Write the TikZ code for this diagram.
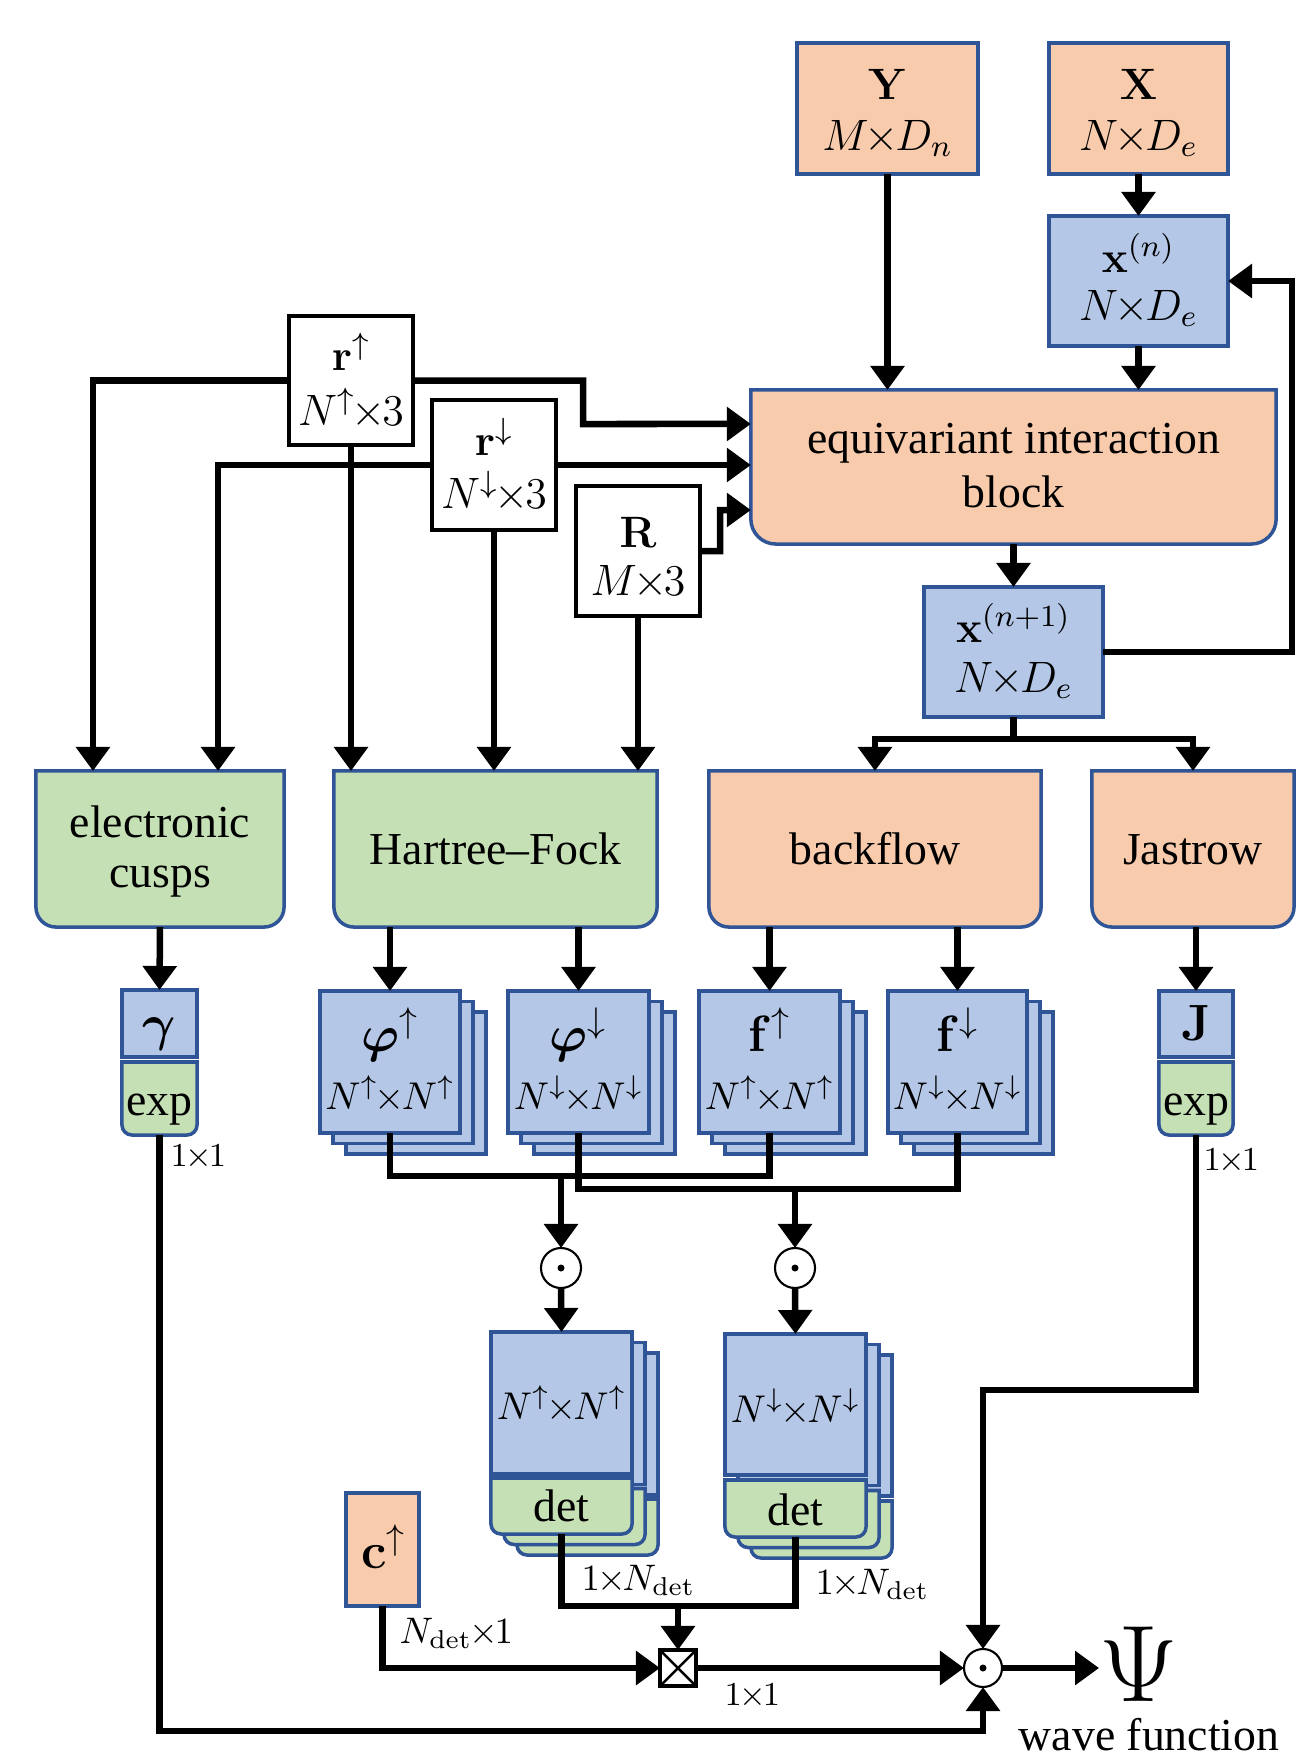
\RequirePackage{fix-cm}
\documentclass[tikz,border=0pt]{standalone}
\usepackage[no-math]{fontspec}
\setmainfont{Liberation Serif}
\usepackage{bm}
\usetikzlibrary{arrows.meta}
\definecolor{orF}{HTML}{F8CBAD}
\definecolor{blF}{HTML}{B4C7E7}
\definecolor{grF}{HTML}{C5E0B4}
\definecolor{bdr}{HTML}{2F5597}
\newcommand\tms{\mkern-1.5mu{\times}\mkern-1.5mu}
\newcommand\botround[3]{%
  \filldraw[draw=bdr, line width=1pt, fill=#3] (#1.north west) -- ([yshift=#2]#1.south west) arc[start angle=180,end angle=270,radius=#2] -- ([xshift=-#2]#1.south east) arc[start angle=270,end angle=360,radius=#2] -- (#1.north east) -- cycle;}
\begin{document}
\begin{tikzpicture}[x=0.01cm, y=-0.01cm,
  bx/.style n args={3}{draw=bdr, line width=1pt, fill=#3, minimum width=#1, minimum height=#2, inner sep=0pt, outer sep=0pt},
  sz/.style n args={2}{minimum width=#1, minimum height=#2, inner sep=0pt, outer sep=0pt},
  wb/.style n args={2}{draw=black, line width=1.2pt, fill=white, minimum width=#1, minimum height=#2, inner sep=0pt, outer sep=0pt},
  mth/.style={font=\fontsize{12.5}{15}\selectfont, inner sep=0pt, anchor=base},
  txt/.style={font=\fontsize{13}{15}\selectfont, inner sep=0pt, anchor=base},
  big/.style={font=\fontsize{14.5}{17}\selectfont, inner sep=0pt, anchor=base},
  sml/.style={font=\fontsize{11}{13}\selectfont, inner sep=0pt, anchor=base},
  lab/.style={font=\fontsize{10.5}{12}\selectfont, inner sep=0pt, anchor=base west},
  labs/.style={font=\fontsize{9.5}{11}\selectfont, inner sep=0pt, anchor=base west},
  lin/.style={line width=1.85pt},
  conn/.style={line width=1.85pt, -{Triangle[length=0.24cm,width=0.33cm]}},
  odot/.style={circle, draw=black, line width=0.6pt, fill=white, minimum size=0.4cm, inner sep=0pt, outer sep=0pt},
]
\useasboundingbox (0,0) rectangle (1297,1763);

% ---- top inputs
\node[bx={1.81cm}{1.31cm}{orF}] (Y) at (887.5,108.5) {};
\node[mth] (Yt1) at (887.5,99) {$\mathbf{Y}$};
\node[mth] (Yt2) at (887.5,150) {$M\tms D_n$};
\node[bx={1.79cm}{1.31cm}{orF}] (X) at (1138.5,108.5) {};
\node[mth] (Xt1) at (1138.5,99) {$\mathbf{X}$};
\node[mth] (Xt2) at (1138.5,150) {$N\tms D_e$};
\node[bx={1.79cm}{1.30cm}{blF}] (xn) at (1138.5,281) {};
\node[mth] (xnt1) at (1138.5,272) {$\mathbf{x}^{(n)}$};
\node[mth] (xnt2) at (1138.5,320) {$N\tms D_e$};

\node[sz={5.25cm}{1.54cm}] (eib) at (1013.5,467) {};
\botround{eib}{0.25cm}{orF}
\node[txt] (eibt1) at (1013.5,453.5) {equivariant interaction};
\node[txt] (eibt2) at (1013.5,507) {block};

\node[bx={1.79cm}{1.30cm}{blF}] (xn1) at (1013.5,652) {};
\node[mth] (xn1t1) at (1013.5,642) {$\mathbf{x}^{(n+1)}$};
\node[mth] (xn1t2) at (1013.5,692) {$N\tms D_e$};

\node[wb={1.24cm}{1.29cm}] (rup) at (351,380.5) {};
\node[mth] (rupt1) at (351,370.5) {$\mathbf{r}^{\uparrow}$};
\node[mth] (rupt2) at (351,425) {$N^{\uparrow}\tms 3$};
\node[wb={1.24cm}{1.30cm}] (rdn) at (494,465) {};
\node[mth] (rdnt1) at (494,455.5) {$\mathbf{r}^{\downarrow}$};
\node[mth] (rdnt2) at (494,508) {$N^{\downarrow}\tms 3$};
\node[wb={1.24cm}{1.30cm}] (R) at (638,551) {};
\node[mth] (Rt1) at (638,547) {$\mathbf{R}$};
\node[mth] (Rt2) at (638,595) {$M\tms 3$};

% ---- middle blocks
\node[sz={2.48cm}{1.56cm}] (cusps) at (160,849) {};
\botround{cusps}{0.2cm}{grF}
\node[txt] (cuspst1) at (160,837) {electronic};
\node[txt] (cuspst2) at (160,887) {cusps};
\node[sz={3.23cm}{1.56cm}] (HF) at (495.5,849) {};
\botround{HF}{0.2cm}{grF}
\node[txt] (HFt) at (495.5,864) {Hartree–Fock};
\node[sz={3.32cm}{1.56cm}] (BF) at (875,849) {};
\botround{BF}{0.2cm}{orF}
\node[txt] (BFt) at (875,864) {backflow};
\node[sz={2.02cm}{1.56cm}] (Jas) at (1193,849) {};
\botround{Jas}{0.2cm}{orF}
\node[txt] (Jast) at (1193,864) {Jastrow};

% ---- gamma / J
\node[bx={0.75cm}{0.67cm}{blF}] (gamma) at (159.5,1023.5) {};
\node[big] (gammat) at (159.5,1040) {$\bm{\gamma}$};
\node[sz={0.75cm}{0.73cm}] (exp1) at (159.5,1098.5) {};
\botround{exp1}{0.1cm}{grF}
\node[txt] (exp1t) at (159.5,1115) {exp};
\node[bx={0.74cm}{0.66cm}{blF}] (J) at (1196,1024) {};
\node[big] (Jt) at (1196,1040) {$\mathbf{J}$};
\node[sz={0.74cm}{0.73cm}] (exp2) at (1196,1098.5) {};
\botround{exp2}{0.1cm}{grF}
\node[txt] (exp2t) at (1196,1115) {exp};
\node[labs] (l11a) at (170,1166) {$1\tms 1$};
\node[labs] (l11b) at (1203,1170) {$1\tms 1$};

% ---- stacked orbital blocks
\foreach \k in {2,1} {
  \node[bx={1.40cm}{1.42cm}{blF}] (phiUb\k) at ({390+13*\k},{1062+10.5*\k}) {};
  \node[bx={1.41cm}{1.42cm}{blF}] (phiDb\k) at ({578.5+13*\k},{1062+10.5*\k}) {};
  \node[bx={1.41cm}{1.42cm}{blF}] (fUb\k) at ({769.5+13*\k},{1062+10.5*\k}) {};
  \node[bx={1.39cm}{1.42cm}{blF}] (fDb\k) at ({957.5+13*\k},{1062+10.5*\k}) {};
}
\node[bx={1.40cm}{1.42cm}{blF}] (phiU) at (390,1062) {};
\node[bx={1.41cm}{1.42cm}{blF}] (phiD) at (578.5,1062) {};
\node[bx={1.41cm}{1.42cm}{blF}] (fU) at (769.5,1062) {};
\node[bx={1.39cm}{1.42cm}{blF}] (fD) at (957.5,1062) {};
\node[big] (phiUt1) at (390,1051) {$\bm{\varphi}^{\uparrow}$};
\node[sml] (phiUt2) at (390,1109) {$N^{\uparrow}\tms N^{\uparrow}$};
\node[big] (phiDt1) at (578.5,1051) {$\bm{\varphi}^{\downarrow}$};
\node[sml] (phiDt2) at (578.5,1109) {$N^{\downarrow}\tms N^{\downarrow}$};
\node[big] (fUt1) at (769.5,1051) {$\mathbf{f}^{\uparrow}$};
\node[sml] (fUt2) at (769.5,1109) {$N^{\uparrow}\tms N^{\uparrow}$};
\node[big] (fDt1) at (957.5,1051) {$\mathbf{f}^{\downarrow}$};
\node[sml] (fDt2) at (957.5,1109) {$N^{\downarrow}\tms N^{\downarrow}$};

% ---- products
\node[odot] (dot1) at (561,1268) {};
\fill (dot1) circle[radius=0.035cm];
\node[odot] (dot2) at (795,1268) {};
\fill (dot2) circle[radius=0.035cm];

% ---- determinant stacks
\foreach \k in {2,1} {
  \node[bx={1.41cm}{1.42cm}{blF}] (d1b\k) at ({561.5+13*\k},{1403+10.5*\k}) {};
  \node[sz={1.41cm}{0.56cm}] (g1b\k) at ({561.5+13*\k},{1506+10.5*\k}) {};
  \botround{g1b\k}{0.1cm}{grF}
}
\node[bx={1.41cm}{1.42cm}{blF}] (d1) at (561.5,1403) {};
\node[sz={1.41cm}{0.56cm}] (g1) at (561.5,1506) {};
\botround{g1}{0.1cm}{grF}
\node[sml] (d1t) at (561.5,1419) {$N^{\uparrow}\tms N^{\uparrow}$};
\node[txt] (g1t) at (561.5,1521) {det};
\foreach \k in {2,1} {
  \node[bx={1.41cm}{1.41cm}{blF}] (d2b\k) at ({795.5+13*\k},{1404.5+10.5*\k}) {};
  \node[sz={1.41cm}{0.57cm}] (g2b\k) at ({795.5+13*\k},{1508.5+10.5*\k}) {};
  \botround{g2b\k}{0.1cm}{grF}
}
\node[bx={1.41cm}{1.41cm}{blF}] (d2) at (795.5,1404.5) {};
\node[sz={1.41cm}{0.57cm}] (g2) at (795.5,1508.5) {};
\botround{g2}{0.1cm}{grF}
\node[sml] (d2t) at (795.5,1422) {$N^{\downarrow}\tms N^{\downarrow}$};
\node[txt] (g2t) at (795.5,1525) {det};

% ---- bottom
\node[bx={0.73cm}{1.13cm}{orF}] (cup) at (382.5,1549.5) {};
\node[big] (cupt) at (384,1568) {$\mathbf{c}^{\uparrow}$};
\node[draw=black, line width=1.2pt, fill=white, minimum size=0.36cm, inner sep=0pt, outer sep=0pt] (cross) at (678,1668) {};
\draw[line width=0.7pt] (cross.north west) -- (cross.south east) (cross.north east) -- (cross.south west);
\node[odot, minimum size=0.38cm] (fdot) at (983,1668) {};
\fill (fdot) circle[radius=0.035cm];
\node[font=\fontsize{31}{32}\selectfont, inner sep=0pt, anchor=base] (Psi) at (1139,1701) {$\Psi$};
\node[txt] (wf) at (1149,1750) {wave function};
\node[lab] (l1N1) at (581,1590) {$1\tms N_{\mathrm{det}}$};
\node[lab] (l1N2) at (815,1594) {$1\tms N_{\mathrm{det}}$};
\node[lab] (lN1) at (399,1643) {$N_{\mathrm{det}}\tms 1$};
\node[labs] (l11c) at (724,1705) {$1\tms 1$};

% ---- connectors
\draw[conn] (Y.south) -- (Y.south |- eib.north);
\draw[conn] (X.south) -- (xn.north);
\draw[conn] (xn.south) -- (xn.south |- eib.north);
\draw[conn] (rup.west) -| ([xshift=-0.67cm]cusps.north);
\draw[conn] (rdn.west) -| ([xshift=0.58cm]cusps.north);
\draw[conn] (rup.east) -- (583,380.5) -- (583,424) -- ([yshift=0.43cm]eib.west);
\draw[conn] (rdn.east) -- (rdn.east -| eib.west);
\draw[conn] (R.east) -- (720,551) -- (720,510) -- ([yshift=-0.43cm]eib.west);
\draw[conn] (rup.south) -- (rup.south |- HF.north);
\draw[conn] (rdn.south) -- (rdn.south |- HF.north);
\draw[conn] (R.south) -- (R.south |- HF.north);
\draw[conn] (eib.south) -- (xn1.north);
\draw[conn] (xn1.east) -- (1292,652) -- (1292,281) -- (xn.east);
\coordinate (sp) at (1013.5,739);
\draw[lin] (xn1.south) -- (sp);
\draw[conn] (sp) -| (BF.north);
\draw[conn] (sp) -| (Jas.north);
\draw[conn] (cusps.south) -- (gamma.north);
\draw[conn] (phiU.north |- HF.south) -- (phiU.north);
\draw[conn] (phiD.north |- HF.south) -- (phiD.north);
\draw[conn] (fU.north |- BF.south) -- (fU.north);
\draw[conn] (fD.north |- BF.south) -- (fD.north);
\draw[conn] (J.north |- Jas.south) -- (J.north);
\coordinate (m1) at (561,1176);
\draw[lin] (phiU.south) |- (m1) -| (fU.south);
\draw[conn] (m1) -- (dot1.north);
\coordinate (m2) at (795,1189);
\draw[lin] (phiD.south) |- (m2) -| (fD.south);
\draw[conn] (m2) -- (dot2.north);
\draw[conn] (dot1.south) -- (d1.north);
\draw[conn] (dot2.south) -- (d2.north);
\coordinate (m3) at (678,1606);
\draw[lin] (g1.south) |- (m3) -| (g2.south);
\draw[conn] (m3) -- (cross.north);
\draw[conn] (cup.south) |- (cross.west);
\draw[conn] (cross.east) -- (fdot.west);
\draw[conn] (exp1.south) -- (159.5,1731) -| (fdot.south);
\draw[conn] (exp2.south) -- (1196,1390) -| (fdot.north);
\draw[conn] (fdot.east) -- (fdot.east -| Psi.west);
\end{tikzpicture}
\end{document}
